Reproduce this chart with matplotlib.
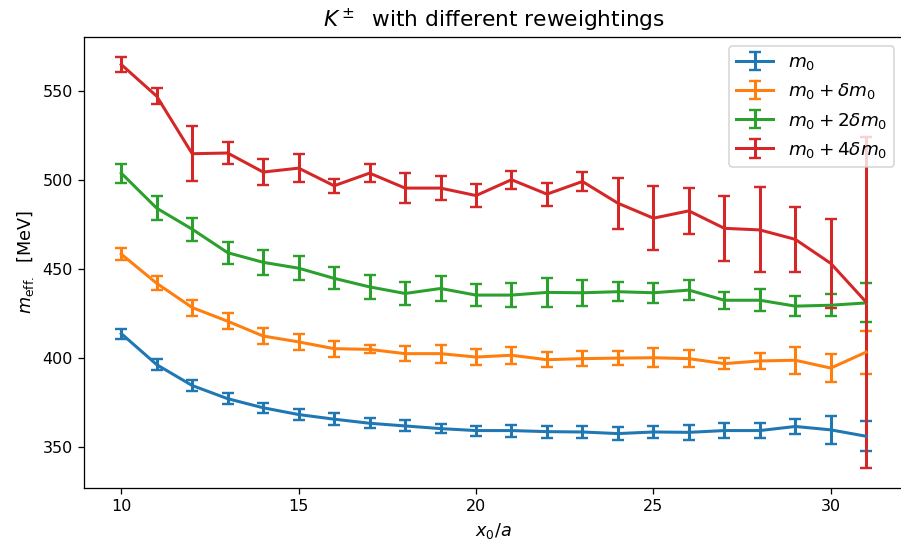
import matplotlib
matplotlib.use('Agg')
import matplotlib.pyplot as plt
import numpy as np

x0 = np.arange(10, 32)

m0 = [413.9, 396.4, 384.7, 377.3, 372.2, 368.4, 365.8, 363.5, 362.0, 360.5, 359.4,
      359.4, 358.8, 358.6, 357.7, 358.6, 358.4, 359.4, 359.4, 361.7, 359.8, 356.2]
m0_err = [2.8, 3.1, 3.2, 3.1, 2.7, 3.0, 3.2, 2.8, 3.1, 2.4, 2.8,
          3.4, 3.3, 3.2, 3.6, 3.5, 4.1, 4.1, 4.2, 4.3, 7.8, 8.5]

m1 = [458.5, 442.1, 428.5, 420.8, 412.5, 409.2, 405.4, 405.0, 402.6, 402.6, 400.7,
      401.7, 399.2, 399.8, 400.1, 400.3, 399.8, 397.0, 398.5, 398.9, 394.5, 403.5]
m1_err = [3.3, 3.9, 4.5, 4.4, 4.7, 4.5, 4.5, 2.3, 4.1, 5.0, 4.3,
          4.9, 4.3, 4.3, 3.8, 5.4, 4.6, 3.2, 4.7, 7.5, 8.0, 12.1]

m2 = [504.0, 484.3, 472.5, 459.3, 453.9, 450.6, 444.9, 440.1, 436.4, 439.2, 435.5,
      435.5, 437.0, 436.8, 437.4, 436.8, 438.3, 432.6, 432.6, 429.3, 429.8, 431.1]
m2_err = [5.4, 6.6, 6.4, 6.1, 7.0, 6.7, 6.2, 6.9, 6.6, 7.0, 6.4,
          6.9, 8.0, 7.3, 5.2, 5.6, 5.6, 4.7, 6.3, 5.6, 6.1, 11.0]

m4 = [565.0, 547.2, 514.9, 515.3, 504.6, 506.8, 496.9, 504.0, 495.6, 495.6, 491.4,
      500.3, 492.2, 499.3, 487.1, 478.7, 482.8, 473.0, 472.1, 466.8, 453.3, 431.5]
m4_err = [4.1, 4.4, 15.3, 6.4, 7.2, 8.0, 3.8, 5.2, 8.6, 6.8, 6.5,
          5.0, 6.4, 5.4, 14.3, 18.0, 12.9, 18.2, 23.9, 18.2, 25.1, 93.0]

series = [
    (m0, m0_err, r'$m_0$'),
    (m1, m1_err, r'$m_0 + \delta m_0$'),
    (m2, m2_err, r'$m_0 + 2\delta m_0$'),
    (m4, m4_err, r'$m_0 + 4\delta m_0$'),
]

dpi = 115
fig = plt.figure(figsize=(901 / dpi, 544 / dpi), dpi=dpi)
# axes run slightly past the right edge, as in the cropped original
ax = fig.add_axes([84 / 901, (544 - 488.3) / 544, (903.5 - 84) / 901, (488.3 - 36.7) / 544])

for vals, errs, label in series:
    ax.errorbar(x0, vals, yerr=errs, capsize=4, capthick=1.5, lw=1.9, label=label)

ax.set_title(r'$K^\pm$  with different reweightings', fontsize=13.5)
ax.set_xlabel(r'$x_0/a$', fontsize=11)
ax.set_ylabel(r'$m_{\mathrm{eff.}}$  [MeV]', fontsize=11)
ax.legend(loc='upper right', fontsize=11.5)

fig.savefig('out.png', dpi=dpi)
